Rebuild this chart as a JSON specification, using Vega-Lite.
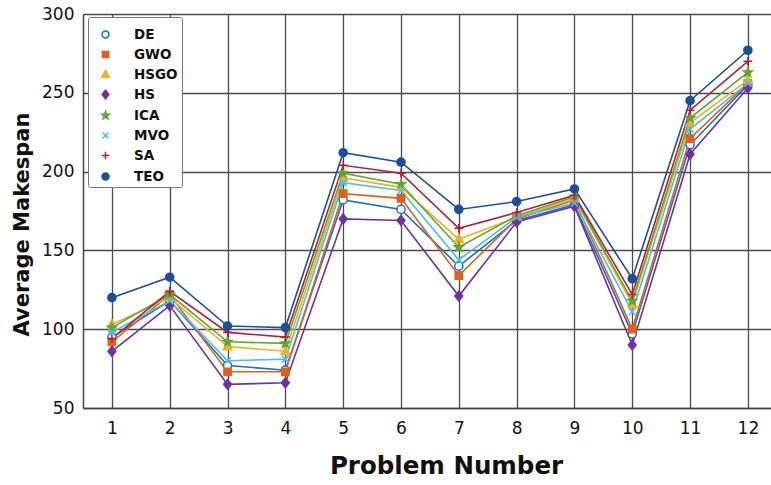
{
  "$schema": "https://vega.github.io/schema/vega-lite/v6.json",
  "width": 688,
  "height": 394,
  "autosize": "none",
  "padding": {"left": 83, "top": 14, "right": 0, "bottom": 77},
  "background": "white",
  "config": {
    "view": {"stroke": null},
    "font": "DejaVu Sans",
    "axis": {
      "gridColor": "#4a4a4a",
      "gridWidth": 1.3,
      "gridOpacity": 1,
      "domainColor": "#444",
      "domainWidth": 1.5,
      "ticks": false,
      "labelFont": "DejaVu Sans",
      "labelFontSize": 17,
      "labelColor": "#111",
      "titleFont": "DejaVu Sans",
      "titleFontWeight": "bold",
      "titleColor": "#111"
    }
  },
  "data": {"values": [
    {"p":1,"a":"DE","v":95},{"p":2,"a":"DE","v":118},{"p":3,"a":"DE","v":77},{"p":4,"a":"DE","v":74},{"p":5,"a":"DE","v":182},{"p":6,"a":"DE","v":176},{"p":7,"a":"DE","v":140},{"p":8,"a":"DE","v":169},{"p":9,"a":"DE","v":179},{"p":10,"a":"DE","v":97},{"p":11,"a":"DE","v":217},{"p":12,"a":"DE","v":255},
    {"p":1,"a":"GWO","v":92},{"p":2,"a":"GWO","v":122},{"p":3,"a":"GWO","v":73},{"p":4,"a":"GWO","v":73},{"p":5,"a":"GWO","v":186},{"p":6,"a":"GWO","v":183},{"p":7,"a":"GWO","v":134},{"p":8,"a":"GWO","v":170},{"p":9,"a":"GWO","v":182},{"p":10,"a":"GWO","v":100},{"p":11,"a":"GWO","v":221},{"p":12,"a":"GWO","v":256},
    {"p":1,"a":"HSGO","v":103},{"p":2,"a":"HSGO","v":120},{"p":3,"a":"HSGO","v":89},{"p":4,"a":"HSGO","v":86},{"p":5,"a":"HSGO","v":196},{"p":6,"a":"HSGO","v":190},{"p":7,"a":"HSGO","v":157},{"p":8,"a":"HSGO","v":171},{"p":9,"a":"HSGO","v":183},{"p":10,"a":"HSGO","v":116},{"p":11,"a":"HSGO","v":231},{"p":12,"a":"HSGO","v":258},
    {"p":1,"a":"HS","v":86},{"p":2,"a":"HS","v":115},{"p":3,"a":"HS","v":65},{"p":4,"a":"HS","v":66},{"p":5,"a":"HS","v":170},{"p":6,"a":"HS","v":169},{"p":7,"a":"HS","v":121},{"p":8,"a":"HS","v":168},{"p":9,"a":"HS","v":178},{"p":10,"a":"HS","v":90},{"p":11,"a":"HS","v":211},{"p":12,"a":"HS","v":253},
    {"p":1,"a":"ICA","v":101},{"p":2,"a":"ICA","v":122},{"p":3,"a":"ICA","v":92},{"p":4,"a":"ICA","v":91},{"p":5,"a":"ICA","v":199},{"p":6,"a":"ICA","v":192},{"p":7,"a":"ICA","v":152},{"p":8,"a":"ICA","v":172},{"p":9,"a":"ICA","v":184},{"p":10,"a":"ICA","v":118},{"p":11,"a":"ICA","v":234},{"p":12,"a":"ICA","v":263},
    {"p":1,"a":"MVO","v":98},{"p":2,"a":"MVO","v":118},{"p":3,"a":"MVO","v":80},{"p":4,"a":"MVO","v":81},{"p":5,"a":"MVO","v":193},{"p":6,"a":"MVO","v":188},{"p":7,"a":"MVO","v":144},{"p":8,"a":"MVO","v":171},{"p":9,"a":"MVO","v":180},{"p":10,"a":"MVO","v":111},{"p":11,"a":"MVO","v":227},{"p":12,"a":"MVO","v":256},
    {"p":1,"a":"SA","v":94},{"p":2,"a":"SA","v":124},{"p":3,"a":"SA","v":98},{"p":4,"a":"SA","v":95},{"p":5,"a":"SA","v":204},{"p":6,"a":"SA","v":199},{"p":7,"a":"SA","v":164},{"p":8,"a":"SA","v":174},{"p":9,"a":"SA","v":185},{"p":10,"a":"SA","v":122},{"p":11,"a":"SA","v":239},{"p":12,"a":"SA","v":270},
    {"p":1,"a":"TEO","v":120},{"p":2,"a":"TEO","v":133},{"p":3,"a":"TEO","v":102},{"p":4,"a":"TEO","v":101},{"p":5,"a":"TEO","v":212},{"p":6,"a":"TEO","v":206},{"p":7,"a":"TEO","v":176},{"p":8,"a":"TEO","v":181},{"p":9,"a":"TEO","v":189},{"p":10,"a":"TEO","v":132},{"p":11,"a":"TEO","v":245},{"p":12,"a":"TEO","v":277}
  ]},
  "encoding": {
    "x": {"field": "p", "type": "quantitative",
      "scale": {"domain": [0.5, 12.4], "nice": false, "zero": false},
      "axis": {"values": [1,2,3,4,5,6,7,8,9,10,11,12], "title": "Problem Number", "titleFontSize": 24.5, "titlePadding": 18, "titleX": 363, "labelPadding": 12, "labelFlush": false}},
    "y": {"field": "v", "type": "quantitative",
      "scale": {"domain": [50, 300], "nice": false, "zero": false},
      "axis": {"values": [50,100,150,200,250,300], "title": "Average Makespan", "titleFontSize": 21, "titlePadding": 9, "titleY": 210, "labelPadding": 9}}
  },
  "layer": [
    {
      "mark": {"type": "line", "strokeWidth": 1.6},
      "encoding": {
        "detail": {"field": "a"},
        "stroke": {"field": "a", "type": "nominal",
          "scale": {"domain": ["DE","GWO","HSGO","HS","ICA","MVO","SA","TEO"],
                    "range": ["#1F6FBF","#E0601E","#F0B020","#7030A0","#62A632","#45C0F0","#B41F38","#1B4F9C"]},
          "legend": {
            "orient": "none", "legendX": 5, "legendY": 3, "title": null,
            "labelFont": "DejaVu Sans", "labelFontSize": 13.5, "labelFontWeight": "bold", "labelColor": "#111",
            "symbolSize": 620, "symbolStrokeWidth": 1.5, "labelOffset": 15,
            "padding": 4, "strokeColor": "#777", "fillColor": "white", "cornerRadius": 2, "rowPadding": 0,
            "encode": {"symbols": {"update": {
              "fill": {"signal": "datum.value==='DE'?'white':datum.value==='GWO'?'#E0601E':datum.value==='HSGO'?'#F0B020':datum.value==='HS'?'#7030A0':datum.value==='ICA'?'#62A632':datum.value==='MVO'?'#45C0F0':datum.value==='SA'?'#B41F38':'#1B4F9C'"}
            }}}
          }}
      }
    },
    {
      "mark": {"type": "point", "strokeWidth": 1.5, "opacity": 1, "size": 841},
      "encoding": {
        "stroke": {"field": "a", "type": "nominal", "legend": null},
        "fill": {"field": "a", "type": "nominal",
          "scale": {"domain": ["DE","GWO","HSGO","HS","ICA","MVO","SA","TEO"],
                    "range": ["white","#E0601E","#F0B020","#7030A0","#62A632","#45C0F0","#B41F38","#1B4F9C"]},
          "legend": null},
        "shape": {"field": "a", "type": "nominal",
          "scale": {"domain": ["DE","GWO","HSGO","HS","ICA","MVO","SA","TEO"],
                    "range": [
                      "M-0.28,0A0.28,0.28,0,1,0,0.28,0A0.28,0.28,0,1,0,-0.28,0Z",
                      "M-0.25,-0.25L0.25,-0.25L0.25,0.25L-0.25,0.25Z",
                      "M0,-0.33L0.3,0.22L-0.3,0.22Z",
                      "M0,-0.34L0.27,0L0,0.34L-0.27,0Z",
                      "M0,-0.32L0.076,-0.105L0.304,-0.099L0.124,0.04L0.188,0.259L0,0.13L-0.188,0.259L-0.124,0.04L-0.304,-0.099L-0.076,-0.105Z",
                      "M-0.24,-0.24L0.24,0.24M-0.24,0.24L0.24,-0.24",
                      "M0,-0.3L0,0.3M-0.3,0L0.3,0",
                      "M-0.28,0A0.28,0.28,0,1,0,0.28,0A0.28,0.28,0,1,0,-0.28,0Z"
                    ]},
          "legend": null}
      }
    }
  ]
}
